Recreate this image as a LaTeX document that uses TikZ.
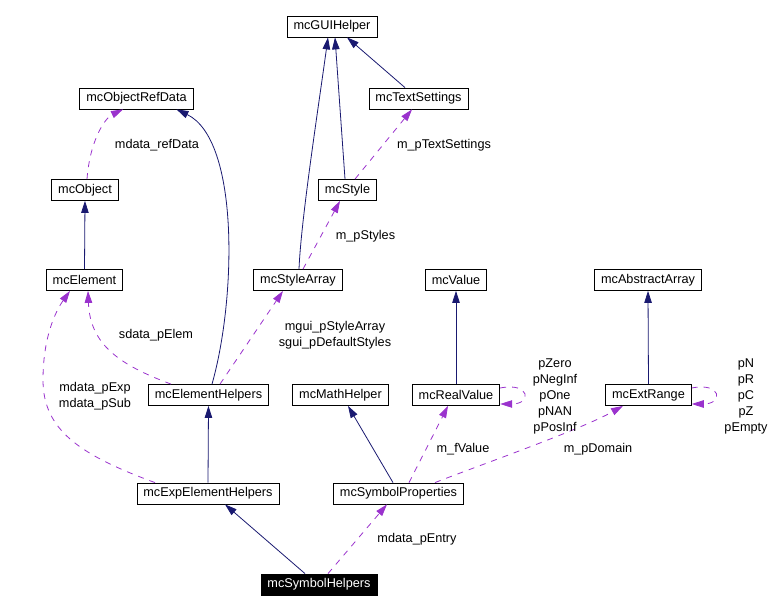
\documentclass[tikz,border=0pt]{standalone}
\usepackage{fontspec}
\setmainfont{Liberation Sans}
\usepackage{xcolor}
\usepackage{tikz}
\usetikzlibrary{arrows.meta}
\definecolor{inhblue}{HTML}{191970}
\definecolor{usepurple}{HTML}{9A32CD}
\begin{document}
\begin{tikzpicture}[
    x=1pt, y=-1pt,
    font=\fontsize{12.7}{16}\selectfont,
    cls/.style={
        draw=black,
        line width=0.8pt,
        inner xsep=6.5pt,
        inner ysep=2pt,
        minimum height=21pt
    },
    hl/.style={cls, fill=black, text=white},
    inh/.style={draw=inhblue, line width=0.8pt, -{Triangle[length=12pt,width=7.5pt]}},
    use/.style={draw=usepurple, line width=0.8pt, dash pattern=on 6pt off 6pt,
        -{Triangle[length=12pt,width=7.5pt]}},
    lbl/.style={inner sep=0pt, align=center}
]
    \useasboundingbox (0,0) rectangle (777,612);

    \node[cls] (guihelper) at (332,26.5) {mcGUIHelper};
    \node[cls] (objref) at (136.5,98.5) {mcObjectRefData};
    \node[cls] (txtset) at (418.5,98.5) {mcTextSettings};
    \node[cls] (object) at (85,190) {mcObject};
    \node[cls] (style) at (347.5,190) {mcStyle};
    \node[cls] (element) at (84.5,280) {mcElement};
    \node[cls] (stylearr) at (298,280) {mcStyleArray};
    \node[cls] (value) at (456,280) {mcValue};
    \node[cls] (absarr) at (648,280) {mcAbstractArray};
    \node[cls] (elemhelp) at (208.5,395) {mcElementHelpers};
    \node[cls] (mathhelp) at (340.5,395) {mcMathHelper};
    \node[cls] (realval) at (456,395) {mcRealValue};
    \node[cls] (extrange) at (648.5,395) {mcExtRange};
    \node[cls] (expelem) at (208,493.5) {mcExpElementHelpers};
    \node[cls] (symprop) at (398.5,493.5) {mcSymbolProperties};
    \node[hl] (symhelp) at (319,584.5) {mcSymbolHelpers};

    \draw[inh] ([xshift=1pt]stylearr.north) .. controls (301,220) and (318,110) .. ([xshift=-4pt]guihelper.south);
    \draw[inh] ([xshift=-2.5pt]style.north) -- ([xshift=3pt]guihelper.south);
    \draw[inh] ([xshift=-13.5pt]txtset.north) -- ([xshift=15pt]guihelper.south);
    \draw[use] ([xshift=7.5pt]style.north) -- ([xshift=-6.5pt]txtset.south);
    \draw[use] ([xshift=5pt]stylearr.north) -- ([xshift=-7.5pt]style.south);
    \draw[use] ([xshift=2pt]object.north) .. controls (90,140) and (105,118) .. ([xshift=-13.5pt]objref.south);
    \draw[inh] ([xshift=3.5pt]elemhelp.north) .. controls (236,300) and (240,140) .. ([xshift=40pt]objref.south);
    \draw[inh] (element.north) -- (object.south);
    \draw[use] ([xshift=-37.5pt]elemhelp.north) .. controls (120,365) and (90,345) .. ([xshift=3.5pt]element.south);
    \draw[use] ([xshift=11.5pt]elemhelp.north) -- ([xshift=-15pt]stylearr.south);
    \draw[use] ([xshift=-53pt]expelem.north) .. controls (80,455) and (43,430) .. (43,380)
        .. controls (43,330) and (60,305) .. ([xshift=-14.5pt]element.south);
    \draw[inh] (expelem.north) -- (elemhelp.south);
    \draw[inh] ([xshift=-14pt]symhelp.north) -- ([xshift=17pt]expelem.south);
    \draw[use] ([xshift=9pt]symhelp.north) -- ([xshift=-11.5pt]symprop.south);
    \draw[inh] ([xshift=-5.5pt]symprop.north) -- ([xshift=7.5pt]mathhelp.south);
    \draw[use] ([xshift=10.5pt]symprop.north) -- ([xshift=-8pt]realval.south);
    \draw[use] ([xshift=36.5pt]symprop.north) .. controls (480,465) and (580,430) .. ([xshift=-25.5pt]extrange.south);
    \draw[inh] (realval.north) -- (value.south);
    \draw[inh] (extrange.north) -- (absarr.south);
    \draw[use] ([yshift=7pt]realval.east) .. controls +(30,-6) and +(32,0) .. ([yshift=-9pt]realval.east);
    \draw[use] ([yshift=7pt]extrange.east) .. controls +(30,-6) and +(32,0) .. ([yshift=-9pt]extrange.east);

    \node[lbl] (lrefdata) at (157,145) {mdata\_refData};
    \node[lbl] (ltxtset) at (444,145) {m\_pTextSettings};
    \node[lbl] (lstyles) at (365.5,236) {m\_pStyles};
    \node[lbl] (lelem) at (156,335) {sdata\_pElem};
    \node[lbl] (lstylearr) at (335,335) {mgui\_pStyleArray\\sgui\_pDefaultStyles};
    \node[lbl] (lexp) at (95,396) {mdata\_pExp\\mdata\_pSub};
    \node[lbl] (lentry) at (417,539) {mdata\_pEntry};
    \node[lbl] (lfvalue) at (463,449) {m\_fValue};
    \node[lbl] (ldomain) at (598,449) {m\_pDomain};
    \node[lbl] (lrealself) at (555,396) {pZero\\pNegInf\\pOne\\pNAN\\pPosInf};
    \node[lbl] (lextself) at (746,396) {pN\\pR\\pC\\pZ\\pEmpty};
\end{tikzpicture}
\end{document}
